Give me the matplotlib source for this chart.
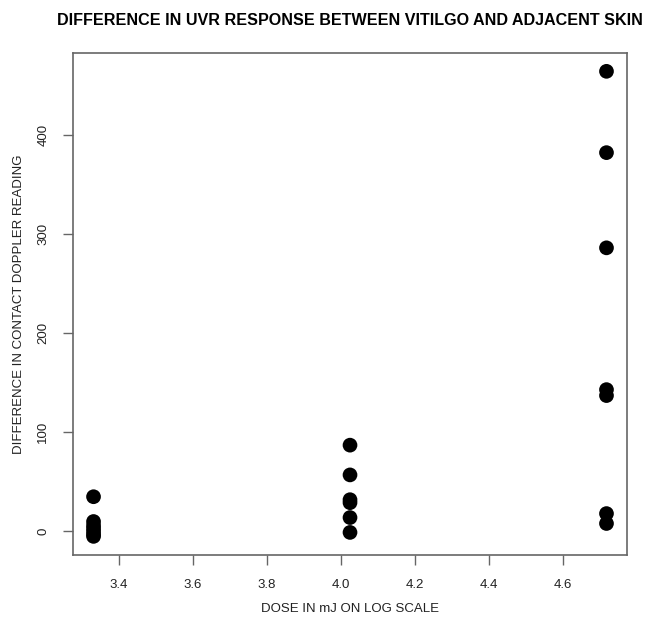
import numpy as np
import matplotlib
matplotlib.use("Agg")
import matplotlib.pyplot as plt

plt.rcParams["font.family"] = ["Liberation Sans", "DejaVu Sans"]

# doses in mJ, plotted on natural log scale
doses = [28, 56, 112]
diff_28 = [35, 10, 6, 3, 0, -3, -5]
diff_56 = [87, 57, 32, 29, 14, -1]
diff_112 = [464, 382, 286, 143, 137, 18, 8]

xticks = [3.4, 3.6, 3.8, 4.0, 4.2, 4.4, 4.6]
yticks = [0, 100, 200, 300, 400]

x = np.concatenate([np.full(len(d), np.log(v)) for v, d in
                    zip(doses, [diff_28, diff_56, diff_112])])
y = np.concatenate([diff_28, diff_56, diff_112])


def r_range(v):
    lo, hi = float(np.min(v)), float(np.max(v))
    pad = 0.04 * (hi - lo)
    return lo - pad, hi + pad


fig = plt.figure(figsize=(6.45, 6.21), dpi=100)
ax = fig.add_axes([0.1132, 0.1063, 0.8589, 0.8088])
ax.scatter(x, y, s=112, c="black", edgecolors="none", zorder=3)
ax.set_xlim(*r_range(x))
ax.set_ylim(*r_range(y))

ax.set_xticks(xticks)
ax.set_xticklabels([f"{t:.1f}" for t in xticks])
ax.set_yticks(yticks)
ax.set_yticklabels([str(t) for t in yticks], rotation=90, va="center")

for s in ax.spines.values():
    s.set_color("#666666")
    s.set_linewidth(1.2)
ax.tick_params(direction="out", length=7, width=1, color="#666666",
               labelsize=9.5, labelcolor="#222222", pad=10)

ax.set_xlabel("DOSE IN mJ ON LOG SCALE", fontsize=9.5, color="#222222", labelpad=9)
ax.set_ylabel("DIFFERENCE IN CONTACT DOPPLER READING", fontsize=9.5,
              color="#222222", labelpad=9)
ax.set_title("DIFFERENCE IN UVR RESPONSE BETWEEN VITILGO AND ADJACENT SKIN",
             fontsize=11.6, fontweight="bold", pad=20)

fig.savefig("out.png", dpi=100)
